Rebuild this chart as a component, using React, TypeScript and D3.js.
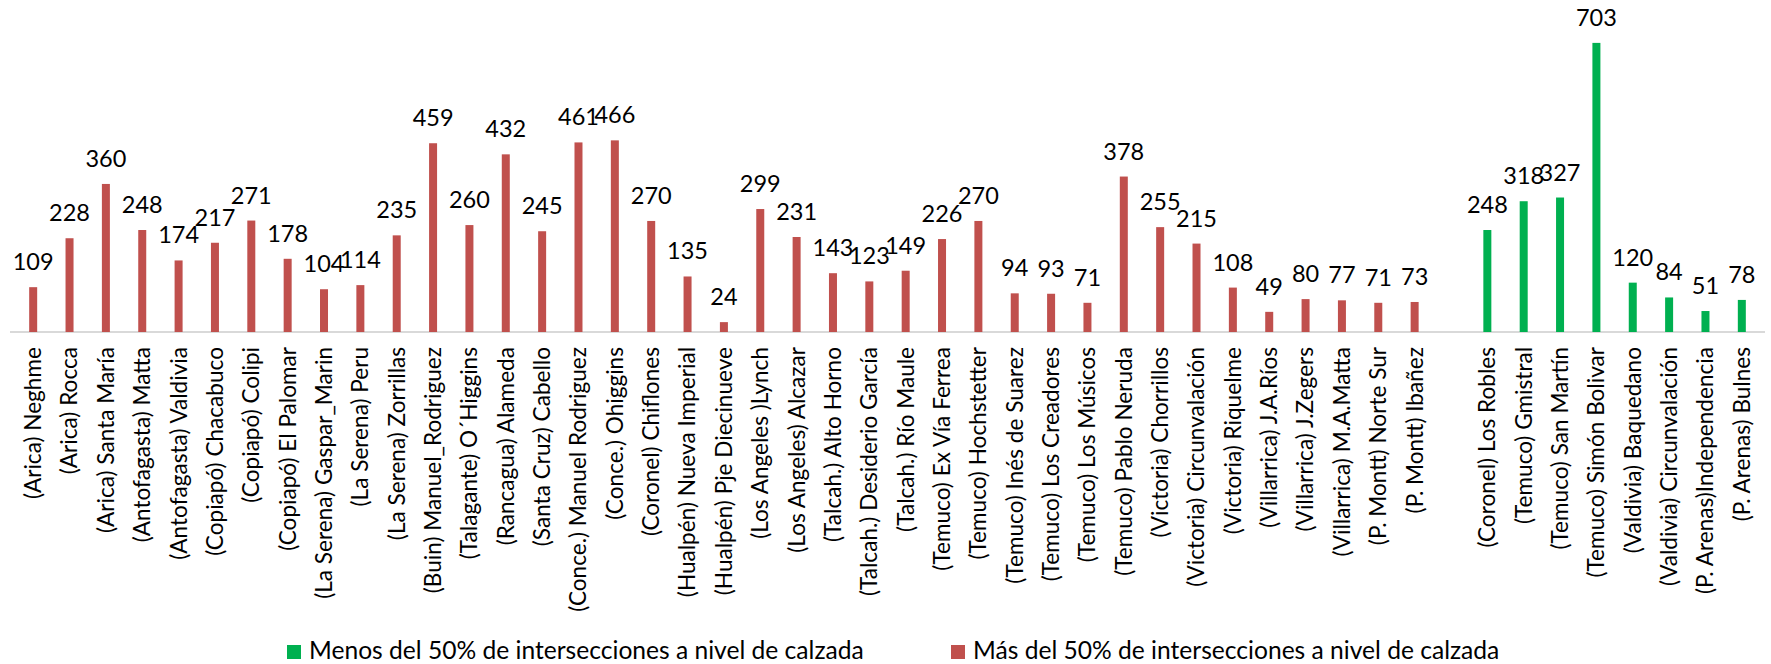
import * as d3 from 'd3';
import React from 'react';

// intersections with more than 50% at street level (red group)
const redCats = [
  "(Arica) Neghme", "(Arica) Rocca", "(Arica) Santa María", "(Antofagasta) Matta",
  "(Antofagasta) Valdivia", "(Copiapó) Chacabuco", "(Copiapó) Colipi", "(Copiapó) El Palomar",
  "(La Serena) Gaspar_Marin", "(La Serena) Peru", "(La Serena) Zorrillas", "(Buin) Manuel_Rodriguez",
  "(Talagante) O´Higgins", "(Rancagua) Alameda", "(Santa Cruz) Cabello", "(Conce.) Manuel Rodriguez",
  "(Conce.) Ohiggins", "(Coronel) Chiflones", "(Hualpén) Nueva Imperial", "(Hualpén) Pje Diecinueve",
  "(Los Angeles )Lynch", "(Los Angeles) Alcazar", "(Talcah.) Alto Horno", "(Talcah.) Desiderio García",
  "(Talcah.) Río Maule", "(Temuco) Ex Vía Ferrea", "(Temuco) Hochstetter", "(Temuco) Inés de Suarez",
  "(Temuco) Los Creadores", "(Temuco) Los Músicos", "(Temuco) Pablo Neruda", "(Victoria) Chorrillos",
  "(Victoria) Circunvalación", "(Victoria) Riquelme", "(Villarrica) J.A.Ríos", "(Villarrica) J.Zegers",
  "(Villarrica) M.A.Matta", "(P. Montt) Norte Sur", "(P. Montt) Ibañez",
];
const redValues = [
  109, 228, 360, 248, 174, 217, 271, 178, 104, 114, 235, 459, 260, 432, 245, 461, 466, 270, 135, 24,
  299, 231, 143, 123, 149, 226, 270, 94, 93, 71, 378, 255, 215, 108, 49, 80, 77, 71, 73,
];

// less than 50% at street level (green group)
const greenCats = [
  "(Coronel) Los Robles", "(Temuco) Gmistral", "(Temuco) San Martín", "(Temuco) Simón Bolivar",
  "(Valdivia) Baquedano", "(Valdivia) Circunvalación", "(P. Arenas)Independencia", "(P. Arenas) Bulnes",
];
const greenValues = [248, 318, 327, 703, 120, 84, 51, 78];

const legendLabels = [
  "Menos del 50% de intersecciones a nivel de calzada",
  "Más del 50% de intersecciones a nivel de calzada",
];

const RED = "#C0504D";
const GREEN = "#00B050";
const FONT = "Lato, 'Open Sans', sans-serif";

function App() {
  const width = 1771, height = 664;
  const baseY = 332;

  const rows = [
    ...redCats.map((c, i) => ({ key: c, label: c, value: redValues[i], color: RED })),
    { key: "__gap__", label: "", value: NaN, color: "none" },
    ...greenCats.map((c, i) => ({ key: "g:" + c, label: c, value: greenValues[i], color: GREEN })),
  ];

  const x = d3.scaleBand().domain(rows.map(d => d.key)).range([15, 1760]).padding(0);
  const y = d3.scaleLinear().domain([0, 800]).range([baseY, 3]);
  const barW = x.bandwidth() * 0.22;
  const bars = rows.filter(d => !isNaN(d.value));

  const legend = [
    { label: legendLabels[0], color: GREEN, x: 287 },
    { label: legendLabels[1], color: RED, x: 951 },
  ];

  return (
    <svg width={width} height={height} style={{ position: 'absolute', left: 0, top: 0 }}
      fontFamily={FONT}>
      <line x1={10} x2={1765} y1={baseY} y2={baseY} stroke="#D9D9D9" strokeWidth={2} />
      <g>
        {bars.map(d => (
          <rect key={d.key}
            x={x(d.key)! + (x.bandwidth() - barW) / 2}
            y={y(d.value)}
            width={barW}
            height={baseY - y(d.value)}
            fill={d.color} />
        ))}
      </g>
      <g fontSize={23.5} textAnchor="middle" fill="#000">
        {bars.map(d => (
          <text key={d.key} x={x(d.key)! + x.bandwidth() / 2} y={y(d.value) - 17}>{d.value}</text>
        ))}
      </g>
      <g fontSize={22.6} textAnchor="end" fill="#000">
        {bars.map(d => (
          <text key={d.key} dy="0.35em"
            transform={`translate(${x(d.key)! + x.bandwidth() / 2},347) rotate(-90)`}>{d.label}</text>
        ))}
      </g>
      <g fontSize={24.6} fill="#000">
        {legend.map(l => (
          <g key={l.label} transform={`translate(${l.x},645)`}>
            <rect width={14} height={14} fill={l.color} />
            <text x={22} y={14}>{l.label}</text>
          </g>
        ))}
      </g>
    </svg>
  );
}

export default App;
